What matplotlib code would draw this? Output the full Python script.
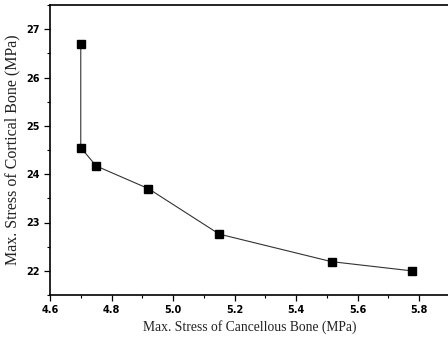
import matplotlib
matplotlib.use("Agg")
import matplotlib.pyplot as plt
from matplotlib.ticker import MultipleLocator

cancellous = [4.70, 4.70, 4.75, 4.92, 5.15, 5.515, 5.775]
cortical = [26.70, 24.55, 24.17, 23.70, 22.76, 22.19, 22.00]
xticks = [4.6, 4.8, 5.0, 5.2, 5.4, 5.6, 5.8]
yticks = [22, 23, 24, 25, 26, 27]

fig = plt.figure(figsize=(4.48, 3.40), dpi=100)
ax = fig.add_axes([50/448, 45/340, 400/448, 290/340])
ax.plot(cancellous, cortical, color="#333333", lw=0.8, marker="s", ms=5.5,
        mfc="black", mec="black")
ax.set_xlim(4.6, 5.9)
ax.set_ylim(21.5, 27.5)
ax.set_xticks(xticks)
ax.set_yticks(yticks)
ax.set_xticklabels([f"{v:.1f}" for v in xticks], fontsize=7, fontweight="bold")
ax.set_yticklabels([str(v) for v in yticks], fontsize=7, fontweight="bold")
ax.xaxis.set_minor_locator(MultipleLocator(0.1))
ax.yaxis.set_minor_locator(MultipleLocator(0.5))
ax.tick_params(which="major", direction="out", length=4, width=0.9)
ax.tick_params(which="minor", direction="out", length=2.5, width=0.8)
for s in ax.spines.values():
    s.set_linewidth(1.2)
ax.set_xlabel("Max. Stress of Cancellous Bone (MPa)", family="Liberation Serif",
              fontsize=9.8, color="#222222", labelpad=3)
ax.set_ylabel("Max. Stress of Cortical Bone (MPa)", family="Liberation Serif",
              fontsize=11.5, color="#222222", labelpad=4)
fig.savefig("out.png", dpi=100)
